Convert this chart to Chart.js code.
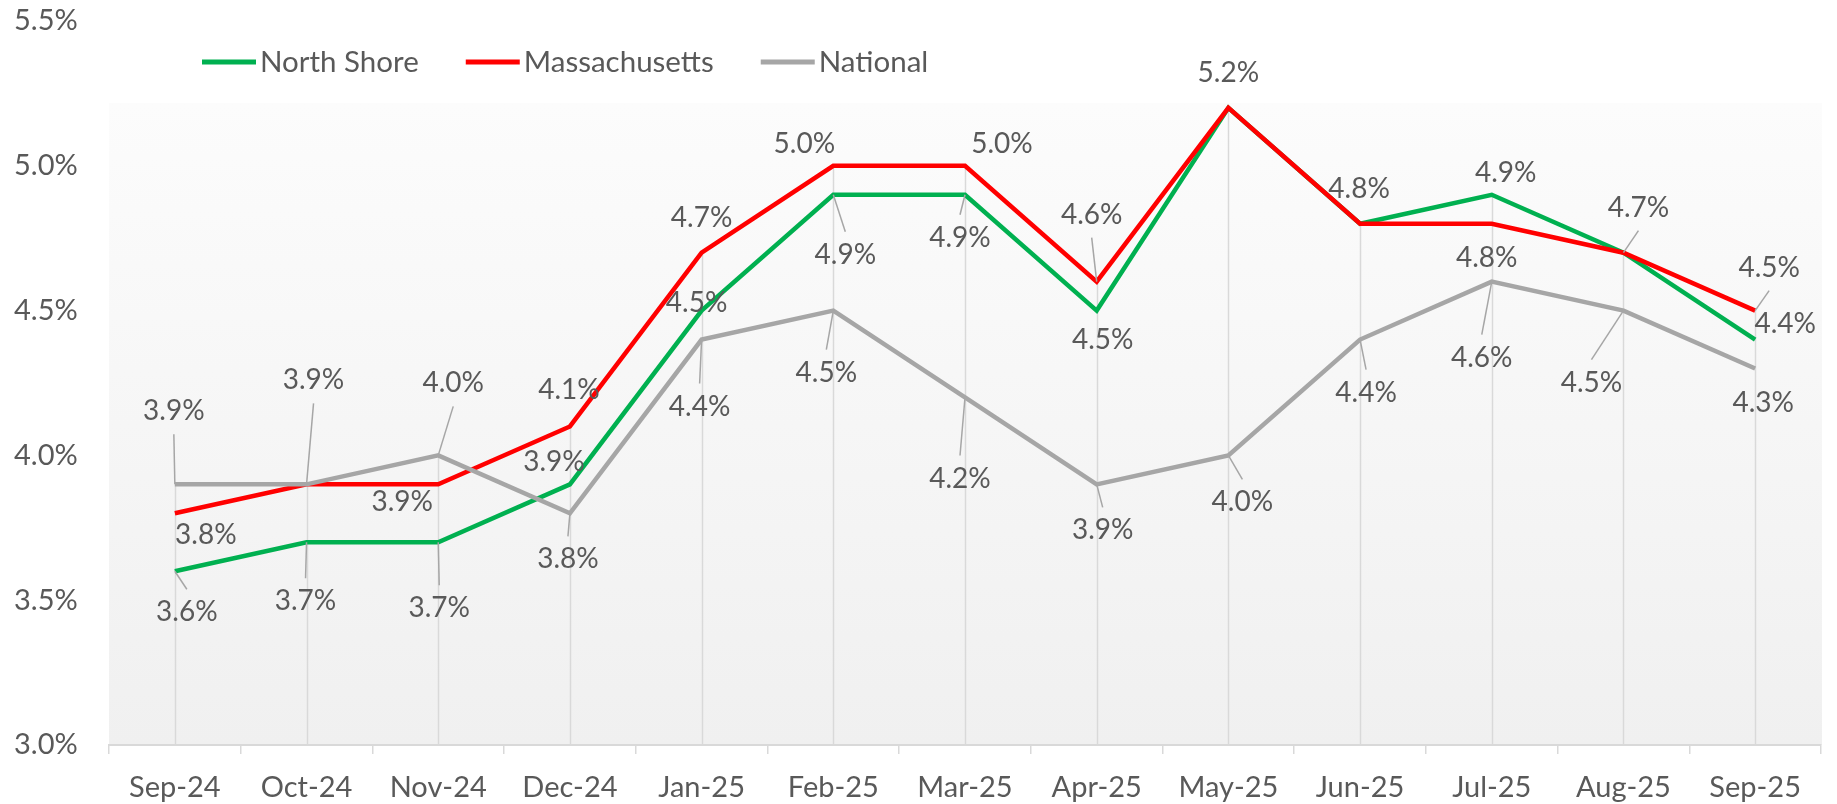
<!DOCTYPE html>
<html>
<head>
<meta charset="utf-8">
<title>Unemployment Rate</title>
<script src="https://cdn.jsdelivr.net/npm/chart.js@4.4.1/dist/chart.umd.min.js"></script>
<style>
  html, body { margin: 0; padding: 0; background: #ffffff; }
  #lineChart { display: block; width: 1837px; height: 804px; }
</style>
</head>
<body>
<canvas id="lineChart" width="1837" height="804"></canvas>
<script>
// Chart data
const months = ["Sep-24", "Oct-24", "Nov-24", "Dec-24", "Jan-25", "Feb-25", "Mar-25",
                "Apr-25", "May-25", "Jun-25", "Jul-25", "Aug-25", "Sep-25"];
const northShore    = [3.6, 3.7, 3.7, 3.9, 4.5, 4.9, 4.9, 4.5, 5.2, 4.8, 4.9, 4.7, 4.4];
const massachusetts = [3.8, 3.9, 3.9, 4.1, 4.7, 5.0, 5.0, 4.6, 5.2, 4.8, 4.8, 4.7, 4.5];
const national      = [3.9, 3.9, 4.0, 3.8, 4.4, 4.5, 4.2, 3.9, 4.0, 4.4, 4.6, 4.5, 4.3];
const yTicks = [3.0, 3.5, 4.0, 4.5, 5.0, 5.5];

// Data label placement (pixel offset from the point, null = no label)
const northShoreLabelPos = [[12, 41], [-1, 59], [1, 66], [-16, -22], [-5, -8], [12, 60], [-5, 43],
                            [6, 29], null, null, [14, -22], null, [30, -16]];
const massachusettsLabelPos = [[31, 22], null, [-36, 18], [-1, -36], [0, -35], [-29, -22], [37, -22],
                               [-5, -67], [0, -35], [-1, -35], [-5, 34], [15, -45], [14, -43]];
const nationalLabelPos = [[-1, -73], [7, -104], [15, -72], [-2, 46], [-2, 67], [-7, 62], [-5, 81],
                          [6, 46], [14, 47], [6, 53], [-10, 76], [-32, 72], [8, 34]];

const FONT = "Lato, 'Open Sans', sans-serif";
const TEXT = "#595959";

const seriesList = [
  { label: "North Shore", data: northShore, color: "#00b050", labelPos: northShoreLabelPos, order: 2 },
  { label: "Massachusetts", data: massachusetts, color: "#ff0000", labelPos: massachusettsLabelPos, order: 1 },
  { label: "National", data: national, color: "#a6a6a6", labelPos: nationalLabelPos, order: 0 }
];

// plot area shading (Excel style gradient)
const plotBackground = {
  id: "plotBackground",
  beforeDraw(chart) {
    const { ctx, chartArea } = chart;
    const top = chartArea.top + 82;
    const grad = ctx.createLinearGradient(0, top, 0, chartArea.bottom);
    grad.addColorStop(0, "#fcfcfc");
    grad.addColorStop(1, "#f0f0f0");
    ctx.save();
    ctx.fillStyle = grad;
    ctx.fillRect(chartArea.left, top, chartArea.right - chartArea.left + 1, chartArea.bottom - top);
    ctx.restore();
  }
};

// drop lines from the highest series down to the axis
const dropLines = {
  id: "dropLines",
  beforeDatasetsDraw(chart) {
    const { ctx } = chart;
    const xs = chart.scales.x, ys = chart.scales.y;
    ctx.save();
    ctx.strokeStyle = "#d9d9d9";
    ctx.lineWidth = 1.5;
    months.forEach((m, i) => {
      const top = Math.max(northShore[i], massachusetts[i], national[i]);
      const px = Math.round(xs.getPixelForValue(i)) + 0.5;
      ctx.beginPath();
      ctx.moveTo(px, ys.getPixelForValue(top));
      ctx.lineTo(px, ys.bottom);
      ctx.stroke();
    });
    ctx.restore();
  }
};

// data labels with leader lines
const dataLabels = {
  id: "dataLabels",
  afterDatasetsDraw(chart) {
    const { ctx } = chart;
    ctx.save();
    ctx.font = "28px " + FONT;
    ctx.textAlign = "center";
    ctx.textBaseline = "middle";
    seriesList.forEach((s, di) => {
      const meta = chart.getDatasetMeta(di);
      meta.data.forEach((pt, i) => {
        const pos = s.labelPos[i];
        if (!pos) return;
        const lx = pt.x + pos[0];
        const ly = pt.y + pos[1];
        if (Math.abs(pos[1]) > 38) {
          const edge = pos[1] > 0 ? ly - 23 : ly + 23;
          ctx.strokeStyle = "#a6a6a6";
          ctx.lineWidth = 1.5;
          ctx.beginPath();
          ctx.moveTo(pt.x, pt.y);
          ctx.lineTo(lx, edge);
          ctx.stroke();
        }
        ctx.fillStyle = TEXT;
        ctx.fillText(s.data[i].toFixed(1) + "%", lx, ly);
      });
    });
    ctx.restore();
  }
};

// legend drawn by hand to match the line-sample look
const lineLegend = {
  id: "lineLegend",
  afterDraw(chart) {
    const { ctx } = chart;
    let x = 202;
    const y = 62;
    ctx.save();
    ctx.font = "29.5px " + FONT;
    ctx.textBaseline = "middle";
    ctx.textAlign = "left";
    seriesList.forEach(s => {
      ctx.strokeStyle = s.color;
      ctx.lineWidth = 5;
      ctx.beginPath();
      ctx.moveTo(x, y);
      ctx.lineTo(x + 54, y);
      ctx.stroke();
      ctx.fillStyle = TEXT;
      ctx.fillText(s.label, x + 58, y);
      x += 58 + ctx.measureText(s.label).width + 47;
    });
    ctx.restore();
  }
};

new Chart(document.getElementById("lineChart"), {
  type: "line",
  data: {
    labels: months,
    datasets: seriesList.map(s => ({
      label: s.label,
      data: s.data,
      borderColor: s.color,
      backgroundColor: s.color,
      borderWidth: 4.5,
      pointRadius: 0,
      pointHoverRadius: 0,
      tension: 0,
      fill: false,
      order: s.order
    }))
  },
  options: {
    responsive: false,
    animation: false,
    events: [],
    layout: { padding: { top: 21, right: 16, left: 14, bottom: 0 } },
    plugins: {
      legend: { display: false },
      tooltip: { enabled: false }
    },
    scales: {
      x: {
        offset: true,
        grid: {
          offset: true,
          drawOnChartArea: false,
          drawTicks: true,
          tickLength: 9,
          color: "#d9d9d9",
          lineWidth: 1.5
        },
        border: { display: true, color: "#d9d9d9", width: 2 },
        ticks: {
          color: TEXT,
          font: { family: FONT, size: 29 },
          padding: 16,
          maxRotation: 0,
          autoSkip: false
        },
        afterFit(scale) { scale.height = 59; }
      },
      y: {
        min: yTicks[0],
        max: yTicks[yTicks.length - 1],
        afterBuildTicks(scale) { scale.ticks = yTicks.map(v => ({ value: v })); },
        grid: { display: false, drawTicks: false },
        border: { display: false },
        ticks: {
          color: TEXT,
          font: { family: FONT, size: 29 },
          padding: 0,
          crossAlign: "far",
          callback: v => Number(v).toFixed(1) + "%"
        },
        afterFit(scale) { scale.width = 95; }
      }
    }
  },
  plugins: [plotBackground, dropLines, dataLabels, lineLegend]
});
</script>
</body>
</html>
